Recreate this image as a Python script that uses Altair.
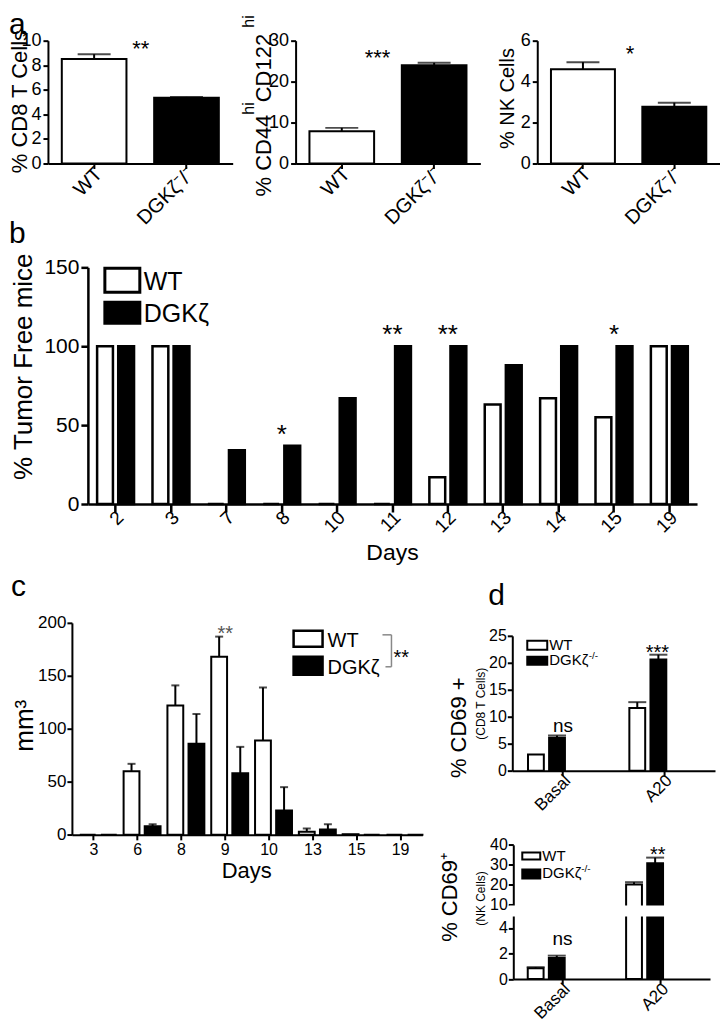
import altair as alt
import pandas as pd

FONT = "Liberation Sans"
BLACK = "black"

# ---------------- data ----------------
a_groups = ["WT", "DGKζ⁻/⁻"]
a_keys = ["WT", "KO"]
a1_mean = [8.5, 5.35]
a1_top = [8.9, 5.42]
a2_mean = [7.9, 24.0]
a2_top = [8.7, 24.6]
a3_mean = [4.6, 2.77]
a3_top = [4.95, 2.97]
a_stars = ["**", "***", "*"]

b_days = ["2", "3", "7", "8", "10", "11", "12", "13", "14", "15", "19"]
b_wt = [100, 100, 0, 0, 0, 0, 17, 63, 67, 55, 100]
b_ko = [100, 100, 34, 37, 67, 100, 100, 88, 100, 100, 100]
b_star_days = ["8", "11", "12", "15"]
b_star_text = ["*", "**", "**", "*"]

c_days = ["3", "6", "8", "9", "10", "13", "15", "19"]
c_wt = [0, 60, 122, 168, 89, 3, 0.6, 0]
c_wt_top = [0, 67, 141, 187, 139, 6, 0.6, 0]
c_ko = [0, 8, 86, 58, 23, 5, 0, 0]
c_ko_top = [0, 10, 114, 83, 45, 10, 0, 0]
c_star_days = ["9"]
c_star_text = ["**"]

d_conds = ["Basal", "A20"]
d1_wt = [3.0, 11.6]
d1_wt_top = [3.0, 12.7]
d1_ko = [6.1, 20.6]
d1_ko_top = [6.5, 21.5]
d1_star_text = ["ns", "***"]
d2_wt = [0.85, 20.2]
d2_wt_top = [0.93, 21.3]
d2_ko = [1.65, 30.8]
d2_ko_top = [1.83, 33.6]
d2_star_text = ["ns", "**"]
d2_break = [4.9, 9.7]

legend_labels = ["WT", "DGKζ"]

ONE = pd.DataFrame({"k": [0]})


# ---------------- helpers ----------------
def frame(w, h):
    return alt.Chart(ONE).mark_rect(opacity=0).encode(
        x=alt.value(0), x2=alt.value(w), y=alt.value(0), y2=alt.value(h))


def txt(text, x, y, size, angle=0, align="left", baseline="alphabetic", color=BLACK):
    props = dict(text=text, font=FONT, fontSize=size, align=align,
                 baseline=baseline, color=color)
    if angle:
        props["angle"] = angle
    return alt.Chart(ONE).mark_text(**props).encode(x=alt.value(x), y=alt.value(y))


def rect(x0, y0, x1, y1, fill, sw=2):
    return alt.Chart(ONE).mark_rect(fill=fill, stroke=BLACK, strokeWidth=sw).encode(
        x=alt.value(x0), x2=alt.value(x1), y=alt.value(y0), y2=alt.value(y1))


def seg(x0, y0, x1, y1, color, sw):
    return alt.Chart(ONE).mark_rule(color=color, strokeWidth=sw).encode(
        x=alt.value(x0), x2=alt.value(x1), y=alt.value(y0), y2=alt.value(y1))


def y_axis(values, left, fs, tick=5, pad=2, dw=2):
    return alt.Axis(values=values, offset=-left, title=None, grid=False,
                    domainColor=BLACK, domainWidth=dw, tickColor=BLACK, tickWidth=dw,
                    tickSize=tick, labelFont=FONT, labelFontSize=fs, labelColor=BLACK,
                    labelPadding=pad, minExtent=0, labelFlush=False, labelOverlap=False)


def x_axis(bottom, H, fs, angle=315, tick=5, pad=2, dw=2, loff=0):
    kw = dict(offset=bottom - H, title=None, grid=False, domainColor=BLACK,
              domainWidth=dw, tickColor=BLACK, tickWidth=dw, tickSize=tick,
              labelFont=FONT, labelFontSize=fs, labelColor=BLACK, labelPadding=pad,
              minExtent=0, labelOverlap=False, labelOffset=loff)
    if angle:
        kw.update(labelAngle=angle, labelAlign="right", labelBaseline="middle")
    else:
        kw.update(labelAngle=0, labelAlign="center", labelBaseline="top")
    return alt.Axis(**kw)


COLOR = alt.Color("k:N", scale=alt.Scale(domain=["WT", "KO"], range=["white", "black"]),
                  legend=None)


def panel_a(vals, tops, star, W, H, xr, yr, ydom, yticks, star_xy, extra):
    df = pd.DataFrame({"g": a_groups, "k": a_keys, "v": vals, "t": tops})
    x = alt.X("g:N", sort=a_groups, title=None,
              scale=alt.Scale(range=xr, paddingInner=0.3, paddingOuter=0.15),
              axis=x_axis(yr[0], H, 20, loff=5))
    ys = alt.Scale(domain=ydom, range=yr, nice=False, zero=True)
    ax = y_axis(yticks, xr[0], 18, tick=5, pad=2)
    yv = alt.Y("v:Q", title=None, scale=ys, axis=ax)
    yt = alt.Y("t:Q", title=None, scale=ys, axis=ax)
    base = alt.Chart(df)
    bars = base.mark_bar(stroke=BLACK, strokeWidth=2).encode(x=x, y=yv, color=COLOR)
    err = base.mark_rule(color=BLACK, strokeWidth=2).encode(x=x, y=yv, y2=alt.Y2("t:Q"))
    caps = base.mark_tick(color=BLACK, thickness=2, size=33).encode(x=x, y=yt)
    st = txt(star, star_xy[0], star_xy[1], 22, align="center")
    return alt.layer(frame(W, H), bars, err, caps, st, *extra).properties(width=W, height=H)


def grouped(cats, wt, wt_t, ko, ko_t, W, H, xr, ys, yticks, yr_bottom, pin, poff,
            cap, sw, xfs, yfs, xangle, xtick, xpad, xloff, ytick, ypad, dw):
    n = len(cats)
    df = pd.DataFrame({"c": cats + cats, "k": ["WT"] * n + ["KO"] * n,
                       "v": wt + ko, "t": wt_t + ko_t})
    x = alt.X("c:N", sort=cats, title=None,
              scale=alt.Scale(range=xr, paddingInner=pin, paddingOuter=pin / 2),
              axis=x_axis(yr_bottom, H, xfs, angle=xangle, tick=xtick, pad=xpad, dw=dw, loff=xloff))
    xo = alt.XOffset("k:N", sort=["WT", "KO"],
                     scale=alt.Scale(paddingInner=poff, paddingOuter=0))
    ax = y_axis(yticks, xr[0], yfs, tick=ytick, pad=ypad, dw=dw)
    yv = alt.Y("v:Q", title=None, scale=ys, axis=ax)
    yt = alt.Y("t:Q", title=None, scale=ys, axis=ax)
    base = alt.Chart(df)
    layers = [base.mark_bar(stroke=BLACK, strokeWidth=sw).encode(
        x=x, xOffset=xo, y=yv, color=COLOR)]
    if cap:
        eb = base.transform_filter("datum.t > datum.v")
        layers.append(eb.mark_rule(color=BLACK, strokeWidth=2).encode(
            x=x, xOffset=xo, y=yv, y2=alt.Y2("t:Q")))
        layers.append(eb.mark_tick(color=BLACK, thickness=2, size=cap).encode(
            x=x, xOffset=xo, y=yt))

    def star(cat, text, lvl, size, dx=0, dy=0, color=BLACK):
        sdf = pd.DataFrame({"c": [cat], "lvl": [lvl]})
        return alt.Chart(sdf).mark_text(
            text=text, font=FONT, fontSize=size, dx=dx, dy=dy, color=color,
            align="center", baseline="alphabetic").encode(
            x=x, y=alt.Y("lvl:Q", title=None, scale=ys, axis=ax))

    def band(lo, hi, x0, x1):
        bdf = pd.DataFrame({"lo": [lo], "hi": [hi]})
        return alt.Chart(bdf).mark_rect(fill="white", strokeWidth=0).encode(
            x=alt.value(x0), x2=alt.value(x1),
            y=alt.Y("lo:Q", title=None, scale=ys, axis=ax), y2=alt.Y2("hi:Q"))

    return layers, star, band


# ---------------- panel a ----------------
H1 = 245
a1 = panel_a(a1_mean, a1_top, a_stars[0], 230, H1, [39, 224], [156, 33], [0, 10],
             [0, 2, 4, 6, 8, 10], (132, 48),
             [txt("% CD8 T Cells", 11, 94, 22, angle=270, align="center", baseline="middle"),
              txt("a", 0, 26, 30), txt("b", 0, 236, 30)])

a2_title = [
    txt("% CD44", 32.4, 189, 22, angle=270),
    txt("hi", 15, 107.1, 16, angle=270),
    txt(" CD122", 32.4, 94.65, 22, angle=270),
    txt("hi", 15, 20.05, 16, angle=270),
]
a2 = panel_a(a2_mean, a2_top, a_stars[1], 257, H1, [57, 242], [156, 33], [0, 30],
             [0, 10, 20, 30], (139, 57), a2_title)

a3 = panel_a(a3_mean, a3_top, a_stars[2], 225, H1, [42, 225], [156, 33], [0, 6],
             [0, 2, 4, 6], (135, 53),
             [txt("% NK Cells", 13, 91, 20, angle=270, align="center", baseline="middle")])

row1 = alt.hconcat(a1, a2, a3, spacing=0)

# ---------------- panel b ----------------
WB, HB = 712, 315
b_ys = alt.Scale(domain=[0, 150], range=[247, 10], nice=False, zero=True)
b_layers, b_star, _ = grouped(b_days, b_wt, b_wt, b_ko, b_ko, WB, HB, [79, 689], b_ys,
                              [0, 50, 100, 150], 247, 0.333, 0.25, 0, 2.5, 19, 21, 315,
                              8, 2, 5, 7, 2, 2.5)
for d, s in zip(b_star_days, b_star_text):
    i = b_days.index(d)
    b_layers.append(b_star(d, s, max(b_wt[i], b_ko[i]), 26, dy=-3))
b_extra = [
    txt("% Tumor Free mice", 15, 109.5, 26, angle=270, align="center", baseline="middle"),
    txt("Days", 384, 296, 23, align="center", baseline="middle"),
    rect(96, 11, 131, 35, "white", 3), rect(96, 45, 131, 66, "black", 3),
    txt(legend_labels[0], 135, 33, 25), txt(legend_labels[1], 135, 65, 25),
]
b_chart = alt.layer(frame(WB, HB), *b_layers, *b_extra).properties(width=WB, height=HB)

# ---------------- panel c ----------------
WC, HC = 427, 448
c_ys = alt.Scale(domain=[0, 200], range=[263.3, 51], nice=False, zero=True)
c_layers, c_star, _ = grouped(c_days, c_wt, c_wt_top, c_ko, c_ko_top, WC, HC, [63, 414], c_ys,
                              [0, 50, 100, 150, 200], 263.3, 0.36, 0.3, 8, 2, 16, 17, 0,
                              5, 2, 0, 5, 1, 2)
for d, s in zip(c_star_days, c_star_text):
    i = c_days.index(d)
    c_layers.append(c_star(d, s, max(c_wt_top[i], c_ko_top[i]), 20, dy=3, color="#555555"))
c_extra = [
    txt("c", 2, 24, 30),
    txt("mm³", 16, 154, 26, angle=270, align="center", baseline="middle"),
    txt("Days", 238, 300, 22, align="center", baseline="middle"),
    rect(285, 59, 314, 75, "white", 2.5), rect(285, 85, 314, 103, "black", 2.5),
    txt(legend_labels[0], 319, 75, 20), txt(legend_labels[1], 319, 102, 20),
    seg(374, 63, 383, 63, "#888888", 1.5), seg(383, 63, 383, 95, "#888888", 1.5),
    seg(377, 95, 383, 95, "#888888", 1.5),
    txt("**", 385, 92, 20),
]
c_chart = alt.layer(frame(WC, HC), *c_layers, *c_extra).properties(width=WC, height=HC)

# ---------------- panel d (top) ----------------
WD, HD1, HD2 = 285, 255, 193
d1_ys = alt.Scale(domain=[0, 25], range=[199, 64], nice=False, zero=True)
d1_layers, d1_star, _ = grouped(d_conds, d1_wt, d1_wt_top, d1_ko, d1_ko_top, WD, HD1, [77, 280],
                                d1_ys, [0, 5, 10, 15, 20, 25], 199, 0.31, 0.17, 18, 2, 17, 16,
                                315, 5, 2, 5, 5, 1, 2)
d1_layers.append(d1_star(d_conds[0], d1_star_text[0], max(d1_wt_top[0], d1_ko_top[0]), 19, dy=-4))
d1_layers.append(d1_star(d_conds[1], d1_star_text[1], max(d1_wt_top[1], d1_ko_top[1]), 20, dx=-7, dy=4))
d1_extra = [
    txt("d", 53, 33, 30),
    txt("% CD69 +", 24, 156, 22, angle=270, align="center", baseline="middle"),
    txt("(CD8 T Cells)", 46, 132, 12, angle=270, align="center", baseline="middle"),
    rect(92, 69, 112, 78, "white", 2), rect(92, 85, 112, 93, "black", 2),
    txt(legend_labels[0], 114, 78, 15), txt(legend_labels[1], 114, 93, 15),
    txt("-/-", 153.5, 87, 10),
]
d1_chart = alt.layer(frame(WD, HD1), *d1_layers, *d1_extra).properties(width=WD, height=HD1)

# ---------------- panel d (bottom, broken axis) ----------------
d2_ys = alt.Scale(domain=[0, 5, 10, 40], range=[152.7, 88.7, 78.3, 18.3], nice=False, zero=False)
d2_layers, d2_star, d2_band = grouped(d_conds, d2_wt, d2_wt_top, d2_ko, d2_ko_top, WD, HD2,
                                      [78, 275], d2_ys, [0, 2, 4, 10, 20, 30, 40], 152.7,
                                      0.294, 0.17, 18, 2, 17, 16, 315, 5, 2, 5, 5, 1, 2)
d2_layers.append(d2_band(d2_break[0], d2_break[1], 74, 279))
d2_layers.append(d2_star(d_conds[0], d2_star_text[0], max(d2_wt_top[0], d2_ko_top[0]), 19, dy=-11))
d2_layers.append(d2_star(d_conds[1], d2_star_text[1], max(d2_wt_top[1], d2_ko_top[1]), 20, dx=-3, dy=3.5))
d2_extra = [
    txt("% CD69⁺", 15, 71, 22, angle=270, align="center", baseline="middle"),
    txt("(NK Cells)", 46, 72, 12, angle=270, align="center", baseline="middle"),
    rect(87, 26, 105, 33, "white", 2), rect(87, 43, 105, 52, "black", 2),
    txt(legend_labels[0], 107, 34, 15), txt(legend_labels[1], 107, 52, 15),
    txt("-/-", 146, 46, 10),
]
d2_chart = alt.layer(frame(WD, HD2), *d2_layers, *d2_extra).properties(width=WD, height=HD2)

d_col = alt.vconcat(d1_chart, d2_chart, spacing=0)
row3 = alt.hconcat(c_chart, d_col, spacing=0)

chart = alt.vconcat(row1, b_chart, row3, spacing=0).properties(
    padding={"left": 0, "top": -1, "right": 0, "bottom": 0}
).configure(font=FONT).configure_view(strokeWidth=0, stroke="transparent")

chart.save("out.html", embed_options={"renderer": "svg", "actions": False})
